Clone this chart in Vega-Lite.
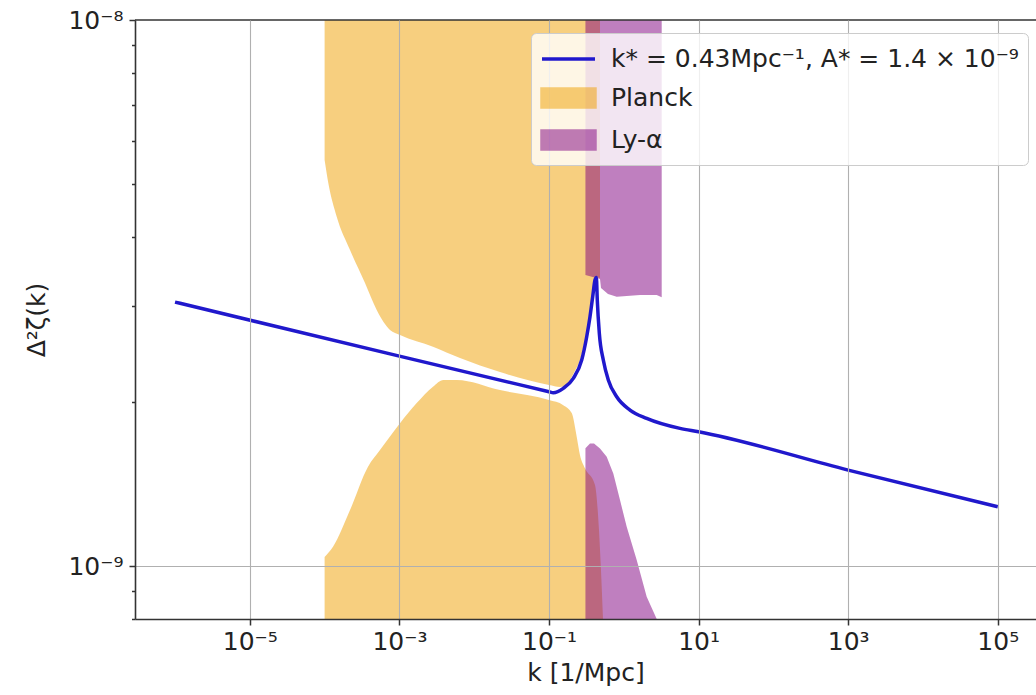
{
  "$schema": "https://vega.github.io/schema/vega-lite/v6.json",
  "width": 901,
  "height": 599,
  "autosize": {"type": "none"},
  "padding": {"left": 135, "top": 20, "right": 0, "bottom": 76},
  "background": "white",
  "config": {
    "view": {"stroke": null},
    "font": "DejaVu Sans"
  },
  "datasets": {
    "regions": [
      {"series": "Planck", "part": "u", "k": 1e-4, "lo": 5.540e-9, "hi": 1e-8},
      {"series": "Planck", "part": "u", "k": 1.1205e-4, "lo": 5.028e-9, "hi": 1e-8},
      {"series": "Planck", "part": "u", "k": 1.451e-4, "lo": 4.362e-9, "hi": 1e-8},
      {"series": "Planck", "part": "u", "k": 2.186e-4, "lo": 3.792e-9, "hi": 1e-8},
      {"series": "Planck", "part": "u", "k": 3.468e-4, "lo": 3.298e-9, "hi": 1e-8},
      {"series": "Planck", "part": "u", "k": 4.971e-4, "lo": 2.943e-9, "hi": 1e-8},
      {"series": "Planck", "part": "u", "k": 7.485e-4, "lo": 2.705e-9, "hi": 1e-8},
      {"series": "Planck", "part": "u", "k": 1.019e-3, "lo": 2.649e-9, "hi": 1e-8},
      {"series": "Planck", "part": "u", "k": 2.812e-3, "lo": 2.521e-9, "hi": 1e-8},
      {"series": "Planck", "part": "u", "k": 6.459e-3, "lo": 2.404e-9, "hi": 1e-8},
      {"series": "Planck", "part": "u", "k": 0.02212, "lo": 2.266e-9, "hi": 1e-8},
      {"series": "Planck", "part": "u", "k": 0.1, "lo": 2.145e-9, "hi": 1e-8},
      {"series": "Planck", "part": "u", "k": 0.1404, "lo": 2.127e-9, "hi": 1e-8},
      {"series": "Planck", "part": "u", "k": 0.1688, "lo": 2.145e-9, "hi": 1e-8},
      {"series": "Planck", "part": "u", "k": 0.2113, "lo": 2.247e-9, "hi": 1e-8},
      {"series": "Planck", "part": "u", "k": 0.2736, "lo": 2.444e-9, "hi": 1e-8},
      {"series": "Planck", "part": "u", "k": 0.3192, "lo": 2.694e-9, "hi": 1e-8},
      {"series": "Planck", "part": "u", "k": 0.3532, "lo": 2.931e-9, "hi": 1e-8},
      {"series": "Planck", "part": "u", "k": 0.3838, "lo": 3.175e-9, "hi": 1e-8},
      {"series": "Planck", "part": "u", "k": 0.4121, "lo": 3.383e-9, "hi": 1e-8},
      {"series": "Planck", "part": "u", "k": 0.4806, "lo": 3.369e-9, "hi": 1e-8},
      {"series": "Planck", "part": "l", "k": 1e-4, "lo": 8e-10, "hi": 1.0387e-9},
      {"series": "Planck", "part": "l", "k": 1.295e-4, "lo": 8e-10, "hi": 1.0845e-9},
      {"series": "Planck", "part": "l", "k": 2.186e-4, "lo": 8e-10, "hi": 1.2661e-9},
      {"series": "Planck", "part": "l", "k": 3.803e-4, "lo": 8e-10, "hi": 1.520e-9},
      {"series": "Planck", "part": "l", "k": 5.501e-4, "lo": 8e-10, "hi": 1.631e-9},
      {"series": "Planck", "part": "l", "k": 1.019e-3, "lo": 8e-10, "hi": 1.827e-9},
      {"series": "Planck", "part": "l", "k": 1.703e-3, "lo": 8e-10, "hi": 1.988e-9},
      {"series": "Planck", "part": "l", "k": 2.812e-3, "lo": 8e-10, "hi": 2.130e-9},
      {"series": "Planck", "part": "l", "k": 3.863e-3, "lo": 8e-10, "hi": 2.191e-9},
      {"series": "Planck", "part": "l", "k": 5.834e-3, "lo": 8e-10, "hi": 2.191e-9},
      {"series": "Planck", "part": "l", "k": 0.02212, "lo": 8e-10, "hi": 2.100e-9},
      {"series": "Planck", "part": "l", "k": 0.1, "lo": 8e-10, "hi": 2.014e-9},
      {"series": "Planck", "part": "l", "k": 0.1553, "lo": 8e-10, "hi": 1.971e-9},
      {"series": "Planck", "part": "l", "k": 0.2011, "lo": 8e-10, "hi": 1.906e-9},
      {"series": "Planck", "part": "l", "k": 0.2346, "lo": 8e-10, "hi": 1.725e-9},
      {"series": "Planck", "part": "l", "k": 0.2597, "lo": 8e-10, "hi": 1.596e-9},
      {"series": "Planck", "part": "l", "k": 0.3029, "lo": 8e-10, "hi": 1.511e-9},
      {"series": "Planck", "part": "l", "k": 0.4121, "lo": 8e-10, "hi": 1.407e-9},
      {"series": "Planck", "part": "l", "k": 0.466, "lo": 8e-10, "hi": 1.164e-9},
      {"series": "Planck", "part": "l", "k": 0.4956, "lo": 8e-10, "hi": 9.83e-10},
      {"series": "Planck", "part": "l", "k": 0.5272, "lo": 8e-10, "hi": 8e-10},
      {"series": "Ly-α", "part": "u", "k": 0.307, "lo": 3.412e-9, "hi": 1e-8},
      {"series": "Ly-α", "part": "u", "k": 0.4806, "lo": 3.355e-9, "hi": 1e-8},
      {"series": "Ly-α", "part": "u", "k": 0.4956, "lo": 3.229e-9, "hi": 1e-8},
      {"series": "Ly-α", "part": "u", "k": 0.6149, "lo": 3.148e-9, "hi": 1e-8},
      {"series": "Ly-α", "part": "u", "k": 0.8037, "lo": 3.112e-9, "hi": 1e-8},
      {"series": "Ly-α", "part": "u", "k": 1.647, "lo": 3.135e-9, "hi": 1e-8},
      {"series": "Ly-α", "part": "u", "k": 2.754, "lo": 3.135e-9, "hi": 1e-8},
      {"series": "Ly-α", "part": "u", "k": 3.211, "lo": 3.108e-9, "hi": 1e-8},
      {"series": "Ly-α", "part": "l", "k": 0.307, "lo": 8e-10, "hi": 1.644e-9},
      {"series": "Ly-α", "part": "l", "k": 0.3532, "lo": 8e-10, "hi": 1.676e-9},
      {"series": "Ly-α", "part": "l", "k": 0.3996, "lo": 8e-10, "hi": 1.676e-9},
      {"series": "Ly-α", "part": "l", "k": 0.4806, "lo": 8e-10, "hi": 1.642e-9},
      {"series": "Ly-α", "part": "l", "k": 0.5906, "lo": 8e-10, "hi": 1.585e-9},
      {"series": "Ly-α", "part": "l", "k": 0.7237, "lo": 8e-10, "hi": 1.478e-9},
      {"series": "Ly-α", "part": "l", "k": 0.8897, "lo": 8e-10, "hi": 1.321e-9},
      {"series": "Ly-α", "part": "l", "k": 1.0934, "lo": 8e-10, "hi": 1.180e-9},
      {"series": "Ly-α", "part": "l", "k": 1.4874, "lo": 8e-10, "hi": 1.026e-9},
      {"series": "Ly-α", "part": "l", "k": 2.023, "lo": 8e-10, "hi": 8.787e-10},
      {"series": "Ly-α", "part": "l", "k": 2.754, "lo": 8e-10, "hi": 8e-10}
    ],
    "line": [
      {"series": "k* = 0.43Mpc⁻¹, A* = 1.4 × 10⁻⁹", "k": 1e-6, "A": 3.044e-9},
      {"series": "k* = 0.43Mpc⁻¹, A* = 1.4 × 10⁻⁹", "k": 1e-3, "A": 2.424e-9},
      {"series": "k* = 0.43Mpc⁻¹, A* = 1.4 × 10⁻⁹", "k": 0.1, "A": 2.086e-9},
      {"series": "k* = 0.43Mpc⁻¹, A* = 1.4 × 10⁻⁹", "k": 0.1142, "A": 2.077e-9},
      {"series": "k* = 0.43Mpc⁻¹, A* = 1.4 × 10⁻⁹", "k": 0.1553, "A": 2.116e-9},
      {"series": "k* = 0.43Mpc⁻¹, A* = 1.4 × 10⁻⁹", "k": 0.2113, "A": 2.207e-9},
      {"series": "k* = 0.43Mpc⁻¹, A* = 1.4 × 10⁻⁹", "k": 0.2736, "A": 2.384e-9},
      {"series": "k* = 0.43Mpc⁻¹, A* = 1.4 × 10⁻⁹", "k": 0.3192, "A": 2.630e-9},
      {"series": "k* = 0.43Mpc⁻¹, A* = 1.4 × 10⁻⁹", "k": 0.3532, "A": 2.861e-9},
      {"series": "k* = 0.43Mpc⁻¹, A* = 1.4 × 10⁻⁹", "k": 0.3838, "A": 3.112e-9},
      {"series": "k* = 0.43Mpc⁻¹, A* = 1.4 × 10⁻⁹", "k": 0.4121, "A": 3.340e-9},
      {"series": "k* = 0.43Mpc⁻¹, A* = 1.4 × 10⁻⁹", "k": 0.43, "A": 3.376e-9},
      {"series": "k* = 0.43Mpc⁻¹, A* = 1.4 × 10⁻⁹", "k": 0.4421, "A": 3.070e-9},
      {"series": "k* = 0.43Mpc⁻¹, A* = 1.4 × 10⁻⁹", "k": 0.4705, "A": 2.671e-9},
      {"series": "k* = 0.43Mpc⁻¹, A* = 1.4 × 10⁻⁹", "k": 0.532, "A": 2.384e-9},
      {"series": "k* = 0.43Mpc⁻¹, A* = 1.4 × 10⁻⁹", "k": 0.6206, "A": 2.191e-9},
      {"series": "k* = 0.43Mpc⁻¹, A* = 1.4 × 10⁻⁹", "k": 0.8037, "A": 2.042e-9},
      {"series": "k* = 0.43Mpc⁻¹, A* = 1.4 × 10⁻⁹", "k": 1.21, "A": 1.931e-9},
      {"series": "k* = 0.43Mpc⁻¹, A* = 1.4 × 10⁻⁹", "k": 2.023, "A": 1.864e-9},
      {"series": "k* = 0.43Mpc⁻¹, A* = 1.4 × 10⁻⁹", "k": 5.64, "A": 1.787e-9},
      {"series": "k* = 0.43Mpc⁻¹, A* = 1.4 × 10⁻⁹", "k": 10, "A": 1.762e-9},
      {"series": "k* = 0.43Mpc⁻¹, A* = 1.4 × 10⁻⁹", "k": 1000, "A": 1.499e-9},
      {"series": "k* = 0.43Mpc⁻¹, A* = 1.4 × 10⁻⁹", "k": 100000, "A": 1.284e-9}
    ]
  },
  "layer": [
    {
      "data": {"name": "regions"},
      "transform": [{"filter": "datum.series === 'Planck'"}],
      "mark": {"type": "area", "opacity": 0.5, "clip": true, "interpolate": "monotone"},
      "encoding": {
        "x": {
          "field": "k", "type": "quantitative",
          "scale": {"type": "log", "domain": [2.917e-7, 3.243e5], "nice": false},
          "axis": {
            "values": [1e-5, 1e-3, 0.1, 10, 1000, 100000],
            "labelExpr": "datum.value < 1e-4 ? '10⁻⁵' : datum.value < 1e-2 ? '10⁻³' : datum.value < 1 ? '10⁻¹' : datum.value < 100 ? '10¹' : datum.value < 1e4 ? '10³' : '10⁵'",
            "title": "k [1/Mpc]",
            "grid": true, "gridColor": "#b0b0b0", "gridWidth": 1.1,
            "tickSize": 6, "tickWidth": 1.5, "tickColor": "#333",
            "domainColor": "#333", "domainWidth": 1.6,
            "labelFontSize": 25, "labelFont": "DejaVu Sans", "labelColor": "#222", "labelPadding": 4,
            "labelFlush": false,
            "titleFontSize": 25, "titleFont": "DejaVu Sans", "titleFontWeight": "normal", "titleColor": "#222", "titlePadding": 6,
            "zindex": 1
          }
        },
        "y": {
          "field": "lo", "type": "quantitative",
          "scale": {"type": "log", "domain": [8e-10, 1e-8], "nice": false},
          "axis": {
            "values": [8e-10, 9e-10, 1e-9, 2e-9, 3e-9, 4e-9, 5e-9, 6e-9, 7e-9, 8e-9, 9e-9, 1e-8],
            "labelExpr": "datum.value == 1e-8 ? '10⁻⁸' : datum.value == 1e-9 ? '10⁻⁹' : ''",
            "labelOverlap": false,
            "title": "Δ²ζ(k)",
            "grid": true, "gridColor": "#b0b0b0", "gridWidth": 1.1,
            "gridOpacity": {"condition": {"test": "datum.value == 1e-9", "value": 1}, "value": 0},
            "tickSize": {"condition": {"test": "datum.value == 1e-8 || datum.value == 1e-9", "value": 6}, "value": 3.5},
            "tickWidth": 1.5, "tickColor": "#333",
            "domainColor": "#333", "domainWidth": 1.6,
            "labelFontSize": 25, "labelFont": "DejaVu Sans", "labelColor": "#222", "labelPadding": 6,
            "titleFontSize": 25, "titleFont": "DejaVu Sans", "titleFontWeight": "normal", "titleColor": "#222", "titlePadding": 18,
            "zindex": 1
          }
        },
        "y2": {"field": "hi"},
        "detail": {"field": "part", "type": "nominal"},
        "color": {
          "field": "series", "type": "nominal",
          "scale": {
            "domain": ["k* = 0.43Mpc⁻¹, A* = 1.4 × 10⁻⁹", "Planck", "Ly-α"],
            "range": ["#2018cc", "#f0a000", "#800080"]
          },
          "legend": {
            "orient": "none", "legendX": 396, "legendY": 13, "title": null,
            "fillColor": "rgba(255,255,255,0.8)", "strokeColor": "#cccccc", "cornerRadius": 5, "padding": 9,
            "labelFontSize": 25, "labelFont": "DejaVu Sans", "labelColor": "#222", "labelLimit": 600,
            "symbolSize": 900, "symbolStrokeWidth": 3, "labelOffset": 37, "rowPadding": 9,
            "zindex": 2,
            "encoding": {
              "symbols": {
                "shape": {"value": {"signal": "datum.value === 'Planck' || datum.value === 'Ly-α' ? 'M-1,-0.6H2.533V0.6H-1Z' : 'M-1,0H2.533'"}},
                "fill": {"value": {"signal": "datum.value === 'Planck' ? '#f0a000' : datum.value === 'Ly-α' ? '#800080' : 'transparent'"}},
                "stroke": {"value": {"signal": "datum.value === 'Planck' || datum.value === 'Ly-α' ? 'transparent' : '#2018cc'"}},
                "opacity": {"value": {"signal": "datum.value === 'Planck' || datum.value === 'Ly-α' ? 0.5 : 1"}},
                "strokeWidth": {"value": 3.5}
              }
            }
          }
        }
      }
    },
    {
      "data": {"name": "regions"},
      "transform": [{"filter": "datum.series === 'Ly-α'"}],
      "mark": {"type": "area", "opacity": 0.5, "clip": true},
      "encoding": {
        "x": {"field": "k", "type": "quantitative"},
        "y": {"field": "lo", "type": "quantitative"},
        "y2": {"field": "hi"},
        "detail": {"field": "part", "type": "nominal"},
        "color": {"field": "series", "type": "nominal"}
      }
    },
    {
      "data": {"name": "line"},
      "mark": {"type": "line", "strokeWidth": 3.5, "interpolate": "monotone", "clip": true},
      "encoding": {
        "x": {"field": "k", "type": "quantitative"},
        "y": {"field": "A", "type": "quantitative"},
        "color": {"field": "series", "type": "nominal"}
      }
    },
    {
      "data": {"values": [{}]},
      "mark": {"type": "rule", "color": "#333", "strokeWidth": 1.6},
      "encoding": {"y": {"datum": 1e-8, "type": "quantitative"}}
    }
  ]
}
